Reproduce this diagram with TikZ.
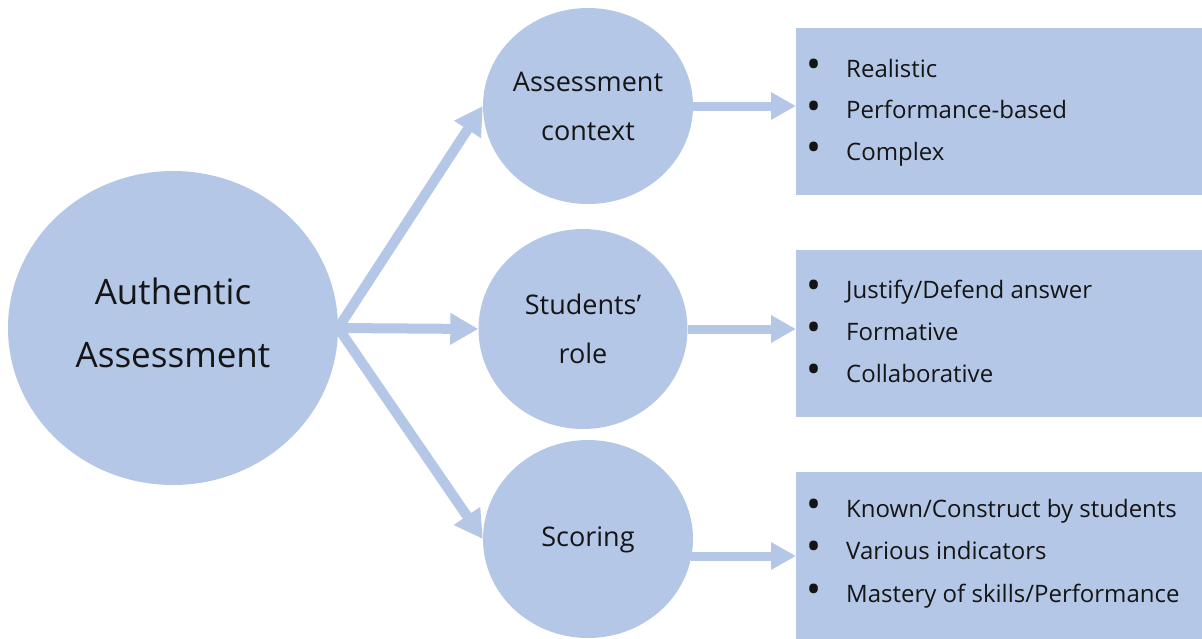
\documentclass[tikz,border=0pt]{standalone}
\usepackage{fontspec}
\setmainfont{Open Sans}
\usetikzlibrary{shapes.geometric,arrows.meta,calc}
\definecolor{lb}{HTML}{B4C7E7}
\definecolor{ink}{HTML}{151515}
\begin{document}
\begin{tikzpicture}[x=1pt,y=-1pt,
  bub/.style={ellipse,fill=lb,draw=none,inner sep=0pt},
  panel/.style={rectangle,fill=lb,draw=none,inner sep=0pt,anchor=north west,minimum width=420pt},
  bigtxt/.style={text=ink,align=center,font=\fontsize{35}{63}\selectfont},
  midtxt/.style={text=ink,align=center,font=\fontsize{27}{49}\selectfont},
  item/.style={text=ink,anchor=base west,inner sep=0pt,font=\fontsize{24}{28}\selectfont},
  bigarrow/.style={draw=lb,line width=10pt,-{Triangle[width=30pt,length=28pt]}},
  smallarrow/.style={draw=lb,line width=9pt,-{Triangle[width=26pt,length=25pt]}}]
\clip (0,0) rectangle (1202,638);
% circles
\node[bub,minimum width=330pt,minimum height=314pt] (auth) at (173,328) {};
\node[bub,minimum width=210pt,minimum height=196pt] (ctx) at (588,106) {};
\node[bub,minimum width=209pt,minimum height=200pt] (role) at (583,329) {};
\node[bub,minimum width=210pt,minimum height=198pt] (score) at (588,539) {};
% panels
\node[panel,minimum height=167pt] (b1) at (796,28) {};
\node[panel,minimum height=167pt] (b2) at (796,250) {};
\node[panel,minimum height=180pt] (b3) at (796,472) {};
% circle texts
\node[bigtxt] (authT) at ([yshift=5.5pt]auth.center) {Authentic\\Assessment};
\node[midtxt] (ctxT) at (ctx.center) {Assessment\\context};
\node[midtxt] (roleT) at (role.center) {Students’\\role};
\node[midtxt] (scoreT) at ([yshift=-1pt]score.center) {Scoring};
% arrows
\draw[bigarrow] (auth.east) -- (ctx.west);
\draw[bigarrow] (auth.east) -- (role.west);
\draw[bigarrow] (auth.east) -- (score.west);
\draw[smallarrow] (ctx.east) -- (ctx.east -| b1.west);
\draw[smallarrow] (role.east) -- (role.east -| b2.west);
\coordinate (s3) at ([yshift=-17pt,xshift=-2pt]score.east);
\draw[smallarrow] (s3) -- (s3 -| b3.west);
% bullet items
\newcommand{\bul}{\makebox[40pt][l]{\raisebox{-1.5pt}{\fontsize{40}{40}\selectfont•}}}
\node[item] (b1i1) at (806,77) {\bul Realistic};
\node[item] (b1i2) at (806,118.5) {\bul Performance-based};
\node[item] (b1i3) at (806,160) {\bul Complex};
\node[item] (b2i1) at (806,298) {\bul Justify/Defend answer};
\node[item] (b2i2) at (806,340) {\bul Formative};
\node[item] (b2i3) at (806,382) {\bul Collaborative};
\node[item] (b3i1) at (806,517) {\bul Known/Construct by students};
\node[item] (b3i2) at (806,559) {\bul Various indicators};
\node[item] (b3i3) at (806,602) {\bul Mastery of skills/Performance};
\end{tikzpicture}
\end{document}
